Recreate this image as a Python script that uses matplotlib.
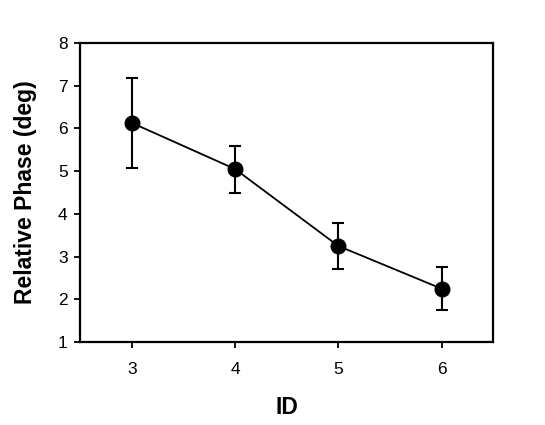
import matplotlib
matplotlib.use('Agg')
import matplotlib.pyplot as plt

plt.rcParams['font.family'] = ['Liberation Sans', 'DejaVu Sans']

ids = [3, 4, 5, 6]
phase = [6.13, 5.05, 3.25, 2.25]
err = [1.06, 0.55, 0.53, 0.50]

fig = plt.figure(figsize=(5.45, 4.25), dpi=100)
ax = fig.add_axes([0.147, 0.195, 0.758, 0.704])

ax.errorbar(ids, phase, yerr=err, color='black', lw=1.3, marker='o', ms=10.5,
            capsize=4.5, elinewidth=1.5, capthick=1.5)

ax.set_xlim(2.5, 6.5)
ax.set_ylim(1, 8)
ax.set_xticks(ids)
ax.set_yticks(range(1, 9))
ax.tick_params(direction='out', length=4, width=1.3, labelsize=12.5)
ax.tick_params(axis='x', pad=10)
ax.tick_params(axis='y', pad=5)
for s in ax.spines.values():
    s.set_linewidth(1.6)

ax.set_xlabel('ID', fontsize=16.5, fontweight='bold', labelpad=14)
ax.set_ylabel('Relative Phase (deg)', fontsize=16.5, fontweight='bold', labelpad=15)

fig.savefig('out.png', dpi=100)
